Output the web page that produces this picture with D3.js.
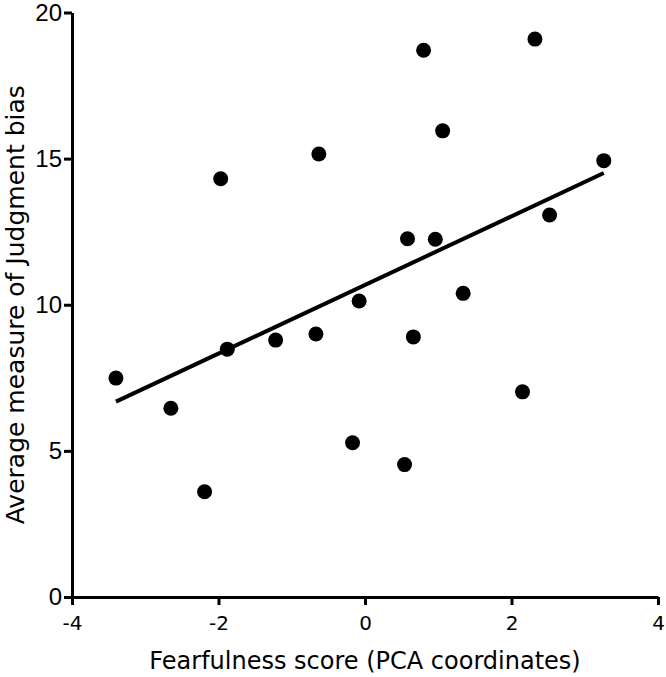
<!DOCTYPE html>
<html>
<head>
<meta charset="utf-8">
<script src="https://cdn.jsdelivr.net/npm/d3@7"></script>
<style>
    html, body { margin: 0; padding: 0; background: #fff; }
    svg { display: block; }
</style>
</head>
<body>
<div id="chart"></div>
<script>
// fearfulness score (PCA coordinates)
const fearScore = [-3.40, -2.65, -2.19, -1.97, -1.88, -1.22, -0.67, -0.63, -0.17, -0.08,
    0.54, 0.58, 0.66, 0.80, 0.96, 1.06, 1.34, 2.15, 2.32, 2.52, 3.26];
// average judgment bias
const judgBias = [7.49, 6.46, 3.60, 14.31, 8.48, 8.79, 9.00, 15.16, 5.28, 10.13,
    4.53, 12.26, 8.90, 18.71, 12.24, 15.95, 10.39, 7.02, 19.09, 13.07, 14.93];

const xTicks = [-4, -2, 0, 2, 4];
const yTicks = [0, 5, 10, 15, 20];
const xTitle = "Fearfulness score (PCA coordinates)";
const yTitle = "Average measure of Judgment bias";

const width = 666, height = 677;
const plotL = 72, plotR = 658, plotT = 12.5, plotB = 597;

let svg = d3.select("#chart")
    .append("svg")
    .attr("width", width)
    .attr("height", height);

let x = d3.scaleLinear().domain([-4, 4]).range([plotL, plotR]);
let y = d3.scaleLinear().domain([0, 20]).range([plotB, plotT]);

let pts = fearScore.map((v, i) => ({x: v, y: judgBias[i]}));

// least squares fit, drawn over the range of the data
let mx = d3.mean(pts, d => d.x), my = d3.mean(pts, d => d.y);
let sxy = d3.sum(pts, d => (d.x - mx) * (d.y - my));
let sxx = d3.sum(pts, d => (d.x - mx) * (d.x - mx));
let slope = sxy / sxx, icpt = my - slope * mx;
let ext = d3.extent(pts, d => d.x);
let fit = ext.map(v => ({x: v, y: icpt + slope * v}));

// axes
let xAxis = svg.append("g")
    .attr("transform", "translate(0," + plotB + ")")
    .call(d3.axisBottom(x).tickValues(xTicks).tickSize(8).tickSizeOuter(0).tickPadding(11)
        .tickFormat(d3.format("d")));

let yAxis = svg.append("g")
    .attr("transform", "translate(" + plotL + ",0)")
    .call(d3.axisLeft(y).tickValues(yTicks).tickSize(8).tickSizeOuter(0).tickPadding(2)
        .tickFormat(d3.format("d")));

svg.selectAll(".domain, .tick line")
    .attr("stroke", "#000")
    .attr("stroke-width", 3);

xAxis.selectAll("text")
    .attr("font-family", "DejaVu Sans")
    .attr("font-size", 20)
    .attr("fill", "#000")
    .text(d => d < 0 ? "-" + Math.abs(d) : d);

yAxis.selectAll("text")
    .attr("font-family", "Liberation Sans")
    .attr("font-size", 24)
    .attr("fill", "#000");

// titles
svg.append("text")
    .attr("x", (plotL + plotR) / 2)
    .attr("y", 669)
    .attr("text-anchor", "middle")
    .attr("font-family", "DejaVu Sans")
    .attr("font-size", 24)
    .text(xTitle);

svg.append("text")
    .attr("transform", "translate(24," + ((plotT + plotB) / 2) + ") rotate(-90)")
    .attr("text-anchor", "middle")
    .attr("font-family", "DejaVu Sans")
    .attr("font-size", 25)
    .text(yTitle);

// regression line
let line = d3.line()
    .x(d => x(d.x))
    .y(d => y(d.y));

svg.append("path")
    .datum(fit)
    .attr("d", line)
    .attr("fill", "none")
    .attr("stroke", "#000")
    .attr("stroke-width", 4);

// points
svg.append("g")
    .selectAll("circle")
    .data(pts)
    .join("circle")
    .attr("cx", d => x(d.x))
    .attr("cy", d => y(d.y))
    .attr("r", 7.5)
    .attr("fill", "#000");
</script>
</body>
</html>
